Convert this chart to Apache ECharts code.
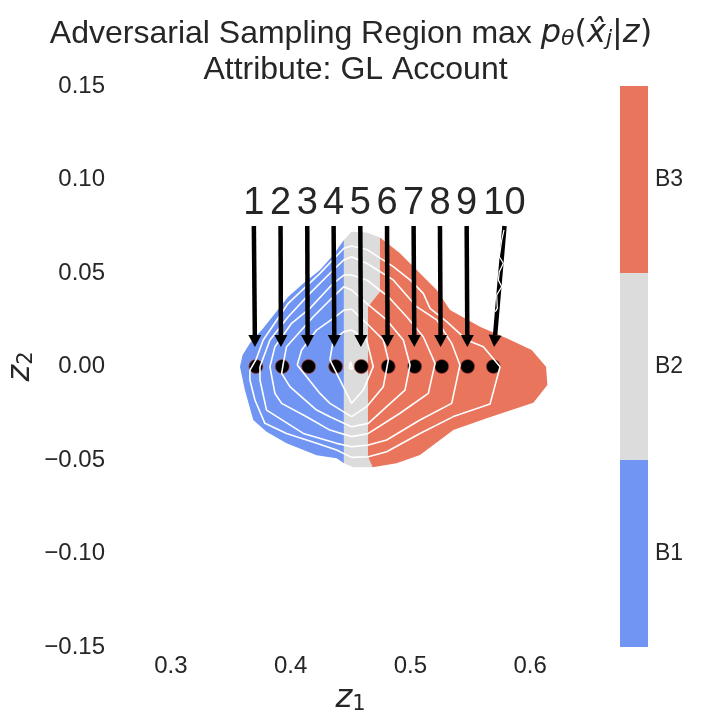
<!DOCTYPE html>
<html>
<head>
<meta charset="utf-8">
<script src="https://cdn.jsdelivr.net/npm/echarts@6/dist/echarts.min.js"></script>
<style>
html,body{margin:0;padding:0;background:#fff}
#main{width:720px;height:720px}
</style>
</head>
<body>
<div id="main"></div>
<script>
// regions, [z1, z2]
var regionB1 = [[.4445,.0676],[.4356,.0596],[.4245,.0516],[.4105,.0444],[.3980,.0373],[.3869,.0284],[.3771,.0204],[.3660,.0124],[.3599,.0061],[.3577,-.0001],[.3618,-.0126],[.3688,-.0286],[.3799,-.0349],[.3966,-.0411],[.4217,-.0474],[.4384,-.0491],[.4445,-.0518]];
var regionB2 = [[.4445,.0676],[.4509,.0721],[.4635,.0716],[.4746,.0690],[.4746,.0400],[.4646,.0320],[.4646,-.0483],[.4685,-.0539],[.4523,-.0539],[.4445,-.0518]];
var regionB3 = [[.4746,.0690],[.4913,.0605],[.5080,.0498],[.5220,.0409],[.5331,.0302],[.5581,.0213],[.5804,.0151],[.6013,.0088],[.6133,-.0001],[.6144,-.0099],[.6027,-.0194],[.5637,-.0277],[.5359,-.0340],[.5080,-.0473],[.4885,-.0518],[.4685,-.0539],[.4646,-.0483],[.4646,.0320],[.4746,.0400]];

// white contour lines, outermost first
var contourA = [[.3660,-.0019],[.3710,.0035],[.3771,.0142],[.3980,.0338],[.4245,.0498],[.4445,.0632],[.4509,.0644],[.4635,.0626],[.4857,.0534],[.4997,.0463],[.5108,.0391],[.5164,.0311],[.5303,.0240],[.5470,.0142],[.5609,.0106],[.5749,-.0001],[.5665,-.0201],[.5359,-.0268],[.5080,-.0358],[.4802,-.0456],[.4649,-.0483],[.4509,-.0486],[.4384,-.0447],[.4217,-.0411],[.3966,-.0358],[.3785,-.0304],[.3702,-.0179],[.3660,-.0072],[.3660,-.0019]];
var contourB = [[.3744,-.0001],[.3827,.0142],[.3980,.0266],[.4161,.0391],[.4356,.0516],[.4445,.0570],[.4509,.0587],[.4635,.0552],[.4857,.0463],[.5052,.0320],[.5220,.0249],[.5345,.0124],[.5414,.0008],[.5345,-.0197],[.5080,-.0286],[.4802,-.0393],[.4649,-.0420],[.4509,-.0429],[.4384,-.0411],[.4106,-.0358],[.3799,-.0233],[.3744,-.0072],[.3744,-.0001]];
var contourC = [[.3827,-.0001],[.3869,.0106],[.4008,.0231],[.4161,.0311],[.4356,.0445],[.4445,.0489],[.4509,.0489],[.4635,.0463],[.4816,.0373],[.4969,.0266],[.5108,.0159],[.5206,.0017],[.5150,-.0144],[.4913,-.0250],[.4649,-.0358],[.4509,-.0375],[.4328,-.0340],[.4133,-.0269],[.3925,-.0197],[.3869,-.0144],[.3827,-.0001]];
var contourD = [[.3939,.0017],[.3966,.0106],[.4189,.0266],[.4356,.0373],[.4445,.0427],[.4509,.0409],[.4635,.0338],[.4802,.0249],[.4941,.0142],[.4997,.0008],[.4955,-.0126],[.4802,-.0215],[.4649,-.0304],[.4509,-.0322],[.4328,-.0269],[.4217,-.0233],[.3994,-.0108],[.3925,-.0037],[.3939,.0017]];
var contourE = [[.4055,.0008],[.4092,.0088],[.4217,.0195],[.4356,.0257],[.4445,.0302],[.4509,.0306],[.4635,.0231],[.4774,.0142],[.4816,.0035],[.4774,-.0108],[.4635,-.0215],[.4509,-.0268],[.4328,-.0197],[.4245,-.0144],[.4055,.0008]];
var contourF = [[.4328,.0035],[.4356,.0142],[.4445,.0186],[.4509,.0195],[.4635,.0142],[.4690,-.0001],[.4607,-.0126],[.4509,-.0197],[.4398,-.0054],[.4328,.0035]];
var contourG = [[.4490,-.0010],[.4501,.0026],[.4518,-.0015],[.4490,-.0010]];
var contourStray = [[.5782,.0730],[.5763,.0676],[.5743,.0587],[.5776,.0552],[.5743,.0507],[.5735,.0462],[.5763,.0427],[.5721,.0382],[.5726,.0311],[.5709,.0293]];

// sampled points and the annotation arrows
var sampleLabels = ['1','2','3','4','5','6','7','8','9','10'];
var sampleZ1 = [.3710,.3930,.4150,.4376,.4590,.4815,.5036,.5262,.5478,.5693];
var sampleZ2 = [0,0,0,0,0,0,0,0,0,0];
var arrowFromZ1 = [.3693,.3916,.4139,.4359,.4582,.4805,.5027,.5247,.5470,.5786];
var arrowToZ1 = [.3702,.3919,.4142,.4365,.4587,.4810,.5033,.5253,.5476,.5699];
var arrowFromZ2 = .0751;
var arrowToZ2 = .0104;

var colorbarCategories = ['B1','B2','B3'];
var colorbarColors = ['#7095f2','#dcdcdc','#e9755c'];
var xTicks = [0.3,0.4,0.5,0.6];

var textColor = '#262626';
var myChart = echarts.init(document.getElementById('main'));

function polygonSeries(points, color){
    return {
        type: 'custom',
        xAxisIndex: 0,
        yAxisIndex: 0,
        silent: true,
        clip: false,
        z: 2,
        data: [points[0]],
        renderItem: function(params, api){
            return {
                type: 'polygon',
                shape: { points: points.map(function(p){ return api.coord(p); }) },
                style: { fill: color }
            };
        }
    };
}

function contourSeries(points){
    return {
        type: 'line',
        xAxisIndex: 0,
        yAxisIndex: 0,
        silent: true,
        z: 4,
        showSymbol: false,
        lineStyle: { color: '#fff', width: 1.6 },
        data: points
    };
}

var arrowData = sampleLabels.map(function(s, i){
    return [arrowFromZ1[i], arrowFromZ2, arrowToZ1[i], arrowToZ2, s];
});

var axisNameRich = {
    m: { fontFamily: 'DejaVu Sans', fontStyle: 'italic', fontSize: 32, color: textColor },
    s: { fontFamily: 'DejaVu Sans', fontSize: 21, color: textColor, verticalAlign: 'bottom' }
};

var option = {
    backgroundColor: '#fff',
    animation: false,
    title: [
        {
            left: 346,
            top: 13,
            textAlign: 'center',
            text: '{a|Adversarial Sampling Region max }{m|p}{s|θ}{b|(}{m|x̂}{s|j}{b||}{m|z}{b|)}',
            textStyle: {
                rich: {
                    a: { fontFamily: 'Liberation Sans', fontWeight: 'normal', fontSize: 32, color: textColor },
                    b: { fontFamily: 'DejaVu Sans', fontWeight: 'normal', fontSize: 32, color: textColor },
                    m: { fontFamily: 'DejaVu Sans', fontWeight: 'normal', fontStyle: 'italic', fontSize: 32, color: textColor },
                    s: { fontFamily: 'DejaVu Sans', fontWeight: 'normal', fontStyle: 'italic', fontSize: 22, color: textColor, verticalAlign: 'bottom' }
                }
            }
        },
        {
            left: 350.5,
            top: 49,
            textAlign: 'center',
            text: 'Attribute: GL Account',
            textStyle: { fontFamily: 'Liberation Sans', fontSize: 32, fontWeight: 'normal', color: textColor }
        }
    ],
    grid: [
        { left: 111, top: 86, width: 479, height: 561, outerBoundsMode: 'none' },
        { left: 620, top: 86, width: 28, height: 561, outerBoundsMode: 'none' }
    ],
    xAxis: [
        {
            gridIndex: 0,
            type: 'value',
            min: 0.25,
            max: 0.65,
            name: '{m|z}{s|1}',
            nameLocation: 'middle',
            nameGap: 31,
            nameTextStyle: { rich: axisNameRich },
            axisLine: { show: false },
            axisTick: { show: false },
            splitLine: { show: false },
            axisLabel: {
                customValues: xTicks,
                margin: 7,
                fontFamily: 'Liberation Sans',
                fontSize: 24,
                color: textColor,
                formatter: function(v){ return v.toFixed(1); }
            }
        },
        {
            gridIndex: 1,
            type: 'value',
            min: 0,
            max: 1,
            show: false
        }
    ],
    yAxis: [
        {
            gridIndex: 0,
            type: 'value',
            min: -0.15,
            max: 0.15,
            interval: 0.05,
            name: '{m|z}{s|2}',
            nameLocation: 'middle',
            nameRotate: 90,
            nameGap: 74,
            nameMoveOverlap: false,
            nameTextStyle: { rich: axisNameRich },
            axisLine: { show: false },
            axisTick: { show: false },
            splitLine: { show: false },
            axisLabel: {
                margin: 6,
                fontFamily: 'Liberation Sans',
                fontSize: 24,
                color: textColor,
                formatter: function(v){ return v.toFixed(2).replace('-', '\u2212'); }
            }
        },
        {
            gridIndex: 1,
            type: 'category',
            position: 'right',
            data: colorbarCategories,
            axisLine: { show: false },
            axisTick: { show: false },
            axisLabel: {
                margin: 7,
                fontFamily: 'Liberation Sans',
                fontSize: 23,
                color: textColor
            }
        }
    ],
    series: [
        polygonSeries(regionB1, colorbarColors[0]),
        polygonSeries(regionB2, colorbarColors[1]),
        polygonSeries(regionB3, colorbarColors[2]),
        {
            type: 'scatter',
            xAxisIndex: 0,
            yAxisIndex: 0,
            silent: true,
            z: 3,
            symbolSize: 14,
            itemStyle: { color: '#000', opacity: 1, borderColor: '#b8433a', borderWidth: 0.7 },
            data: sampleZ1.map(function(v, i){ return [v, sampleZ2[i]]; })
        },
        contourSeries(contourA),
        contourSeries(contourB),
        contourSeries(contourC),
        contourSeries(contourD),
        contourSeries(contourE),
        contourSeries(contourF),
        contourSeries(contourG),
        {
            type: 'custom',
            xAxisIndex: 0,
            yAxisIndex: 0,
            silent: true,
            clip: false,
            z: 5,
            data: arrowData,
            renderItem: function(params, api){
                var a = api.coord([api.value(0), api.value(1)]);
                var b = api.coord([api.value(2), api.value(3)]);
                var dx = b[0] - a[0], dy = b[1] - a[1];
                var len = Math.sqrt(dx * dx + dy * dy);
                var ux = dx / len, uy = dy / len;
                var baseX = b[0] - ux * 12, baseY = b[1] - uy * 12;
                return {
                    type: 'group',
                    children: [
                        {
                            type: 'line',
                            shape: { x1: a[0], y1: a[1], x2: baseX, y2: baseY },
                            style: { stroke: '#000', lineWidth: 4.5 }
                        },
                        {
                            type: 'polygon',
                            shape: { points: [b, [baseX - uy * 6.5, baseY + ux * 6.5], [baseX + uy * 6.5, baseY - ux * 6.5]] },
                            style: { fill: '#000' }
                        },
                        {
                            type: 'text',
                            x: a[0],
                            y: a[1] - 4,
                            style: {
                                text: api.value(4),
                                fontFamily: 'Liberation Sans',
                                fontSize: 38,
                                fill: textColor,
                                align: 'center',
                                verticalAlign: 'bottom'
                            }
                        }
                    ]
                };
            }
        },
        {
            type: 'line',
            xAxisIndex: 0,
            yAxisIndex: 0,
            silent: true,
            z: 6,
            showSymbol: false,
            lineStyle: { color: '#fff', width: 1.2 },
            data: contourStray
        },
        {
            type: 'bar',
            xAxisIndex: 1,
            yAxisIndex: 1,
            silent: true,
            barWidth: '100%',
            itemStyle: {
                color: function(p){ return colorbarColors[p.dataIndex]; }
            },
            data: [1,1,1]
        }
    ]
};
myChart.setOption(option);
</script>
</body>
</html>
